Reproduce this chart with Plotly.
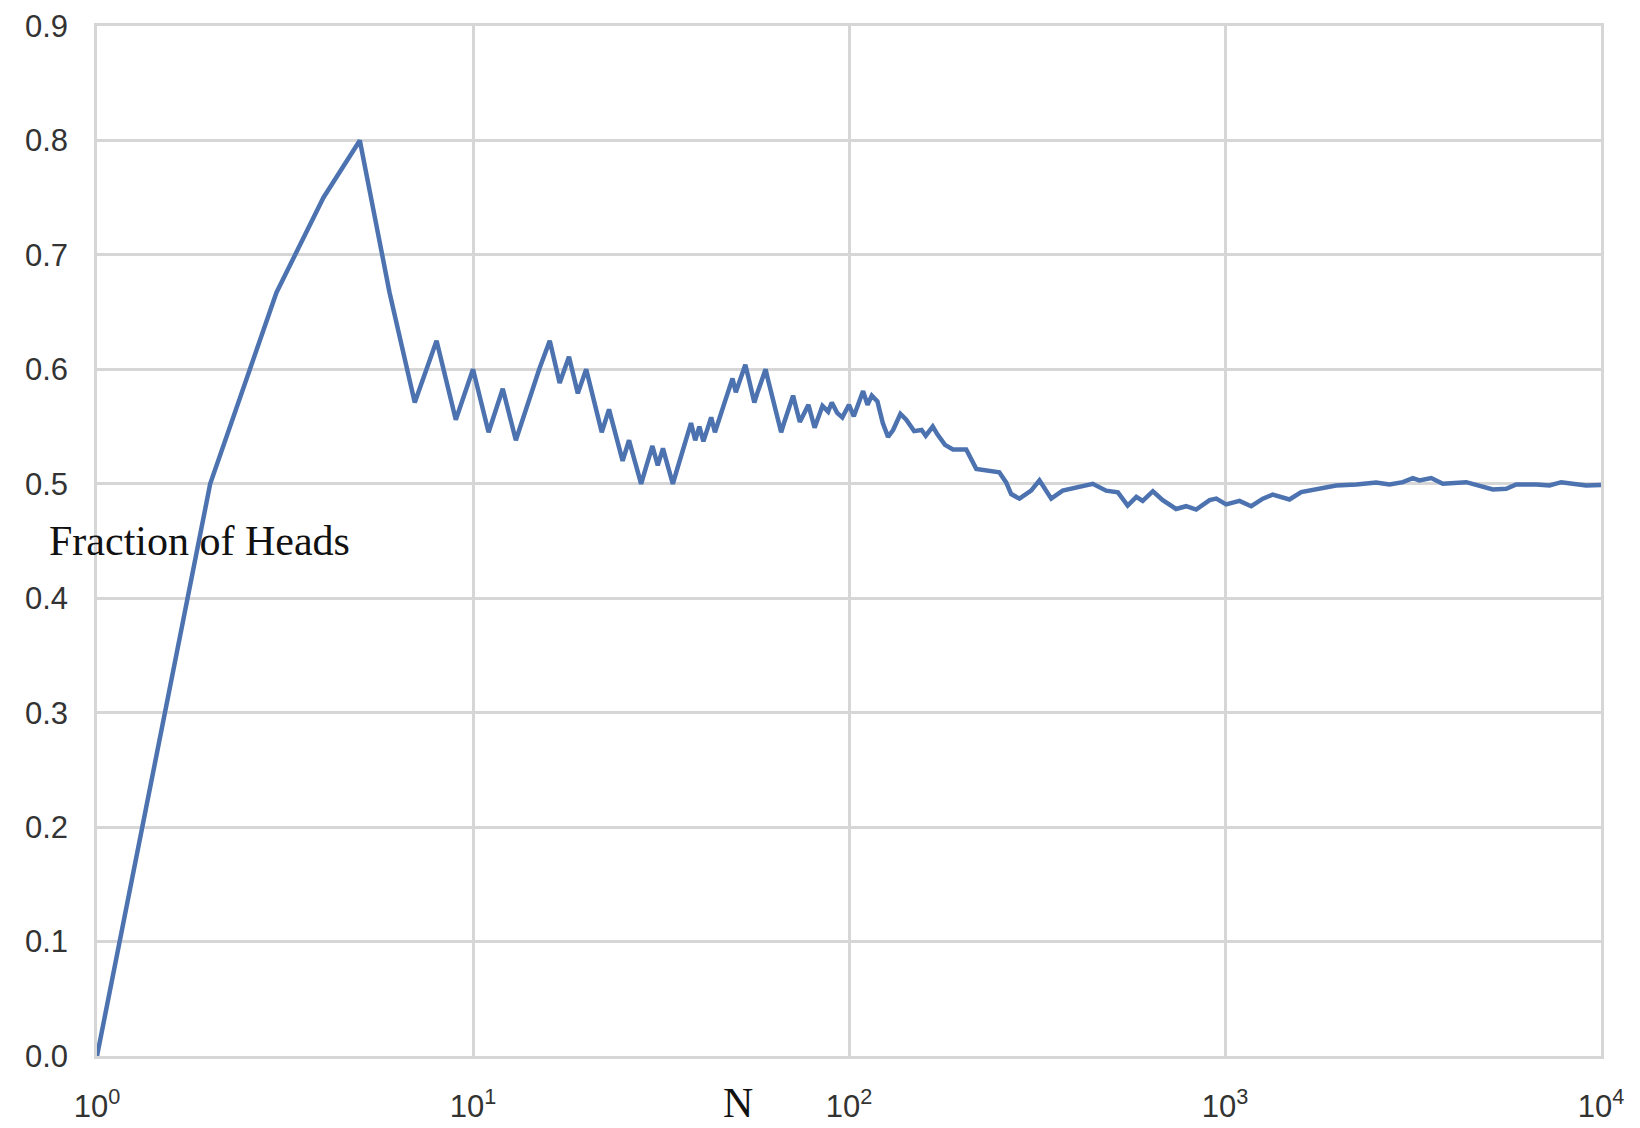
import plotly.graph_objects as go

# Running fraction of heads after N coin tosses
n_tosses = [
    1, 2, 3, 4, 5, 6, 7, 8, 9, 10,
    11, 12, 13, 14, 15, 16, 17, 18, 19, 20,
    21, 22, 23, 24, 25, 26, 27, 28, 29, 30,
    31, 32, 33, 34, 35, 36, 37, 38, 39, 40,
    41, 42, 43, 44, 45, 46, 47, 48, 49, 50,
    51, 52, 53, 54, 55, 56, 57, 58, 59, 60,
    61, 62, 63, 64, 65, 66, 67, 68, 69, 70,
    71, 72, 73, 74, 78, 81, 85, 88, 90, 93,
    96, 100, 103, 109, 112, 115, 119, 123, 127, 131,
    137, 142, 149, 156, 160, 167, 172, 180, 189, 205,
    218, 236, 251, 262, 270, 284, 305, 321, 345, 370,
    402, 428, 445, 483, 519, 551, 581, 604, 643, 683,
    741, 788, 838, 910, 948, 1007, 1093, 1174, 1261, 1340,
    1484, 1595, 1784, 1975, 2234, 2523, 2738, 2972, 3159, 3290,
    3535, 3796, 4381, 4753, 5155, 5598, 5950, 6725, 7296, 7840,
    8590, 9133, 10000,
]

fraction_heads = [
    0.0, 0.5, 0.667, 0.75, 0.8, 0.667, 0.571, 0.625, 0.556, 0.6,
    0.545, 0.583, 0.538, 0.571, 0.6, 0.625, 0.588, 0.611, 0.579, 0.6,
    0.571, 0.545, 0.565, 0.542, 0.52, 0.538, 0.519, 0.5, 0.517, 0.533,
    0.516, 0.531, 0.515, 0.5, 0.514, 0.528, 0.541, 0.553, 0.538, 0.55,
    0.537, 0.548, 0.558, 0.545, 0.556, 0.565, 0.574, 0.583, 0.592, 0.58,
    0.588, 0.596, 0.604, 0.593, 0.582, 0.571, 0.579, 0.586, 0.593, 0.6,
    0.59, 0.581, 0.571, 0.5625, 0.554, 0.545, 0.552, 0.559, 0.565, 0.571,
    0.577, 0.569, 0.562, 0.554, 0.569, 0.549, 0.568, 0.563, 0.571, 0.562,
    0.558, 0.569, 0.559, 0.581, 0.569, 0.577, 0.572, 0.553, 0.541, 0.547,
    0.561, 0.556, 0.546, 0.547, 0.542, 0.55, 0.543, 0.534, 0.53, 0.53,
    0.513, 0.511, 0.51, 0.501, 0.491, 0.487, 0.494, 0.503, 0.487, 0.494,
    0.4965, 0.498, 0.5, 0.494, 0.4925, 0.481, 0.4886, 0.485, 0.4935, 0.4857,
    0.478, 0.4804, 0.4775, 0.4857, 0.487, 0.482, 0.485, 0.4804, 0.487, 0.4906,
    0.4863, 0.4927, 0.4956, 0.4985, 0.4994, 0.501, 0.4994, 0.5014, 0.505, 0.503,
    0.505, 0.5, 0.5014, 0.4985, 0.495, 0.4956, 0.4994, 0.4994, 0.4985, 0.5014,
    0.5, 0.4985, 0.499,
]

x_tick_vals = [1, 10, 100, 1000, 10000]
x_tick_text = ["10<sup>0</sup>", "10<sup>1</sup>", "10<sup>2</sup>",
               "10<sup>3</sup>", "10<sup>4</sup>"]
y_tick_vals = [0.0, 0.1, 0.2, 0.3, 0.4, 0.5, 0.6, 0.7, 0.8, 0.9]

GRID = "#d6d6d6"
TICK_FONT = dict(family="Liberation Sans, Arial, sans-serif", size=31, color="#333333")
LABEL_FONT = dict(family="Liberation Serif, Times New Roman, serif", size=42, color="#111111")

fig = go.Figure()
fig.add_trace(go.Scatter(
    x=n_tosses,
    y=fraction_heads,
    mode="lines",
    line=dict(color="#4c72b0", width=4.5),
    showlegend=False,
))

fig.update_layout(
    width=1640,
    height=1128,
    margin=dict(l=97, r=39, t=26, b=72),
    paper_bgcolor="white",
    plot_bgcolor="white",
    xaxis=dict(
        type="log",
        range=[0, 4],
        tickvals=x_tick_vals,
        ticktext=x_tick_text,
        tickfont=TICK_FONT,
        ticklabelstandoff=21,
        automargin=False,
        showgrid=True,
        gridcolor=GRID,
        gridwidth=2.5,
        showline=True,
        linecolor=GRID,
        linewidth=2.5,
        mirror=True,
        zeroline=False,
        ticks="",
    ),
    yaxis=dict(
        range=[0, 0.9],
        tickvals=y_tick_vals,
        tickformat=".1f",
        tickfont=TICK_FONT,
        ticklabelstandoff=20,
        automargin=False,
        showgrid=True,
        gridcolor=GRID,
        gridwidth=2.5,
        showline=True,
        linecolor=GRID,
        linewidth=2.5,
        mirror=True,
        zeroline=False,
        ticks="",
    ),
    annotations=[
        dict(
            text="Fraction of Heads",
            xref="paper", yref="paper",
            x=0.068, y=0.5,
            xanchor="center", yanchor="middle",
            showarrow=False,
            font=LABEL_FONT,
        ),
        dict(
            text="N",
            xref="paper", yref="paper",
            x=0.426, y=-0.046,
            xanchor="center", yanchor="middle",
            showarrow=False,
            font=LABEL_FONT,
        ),
    ],
)

fig.write_html("out.html")
